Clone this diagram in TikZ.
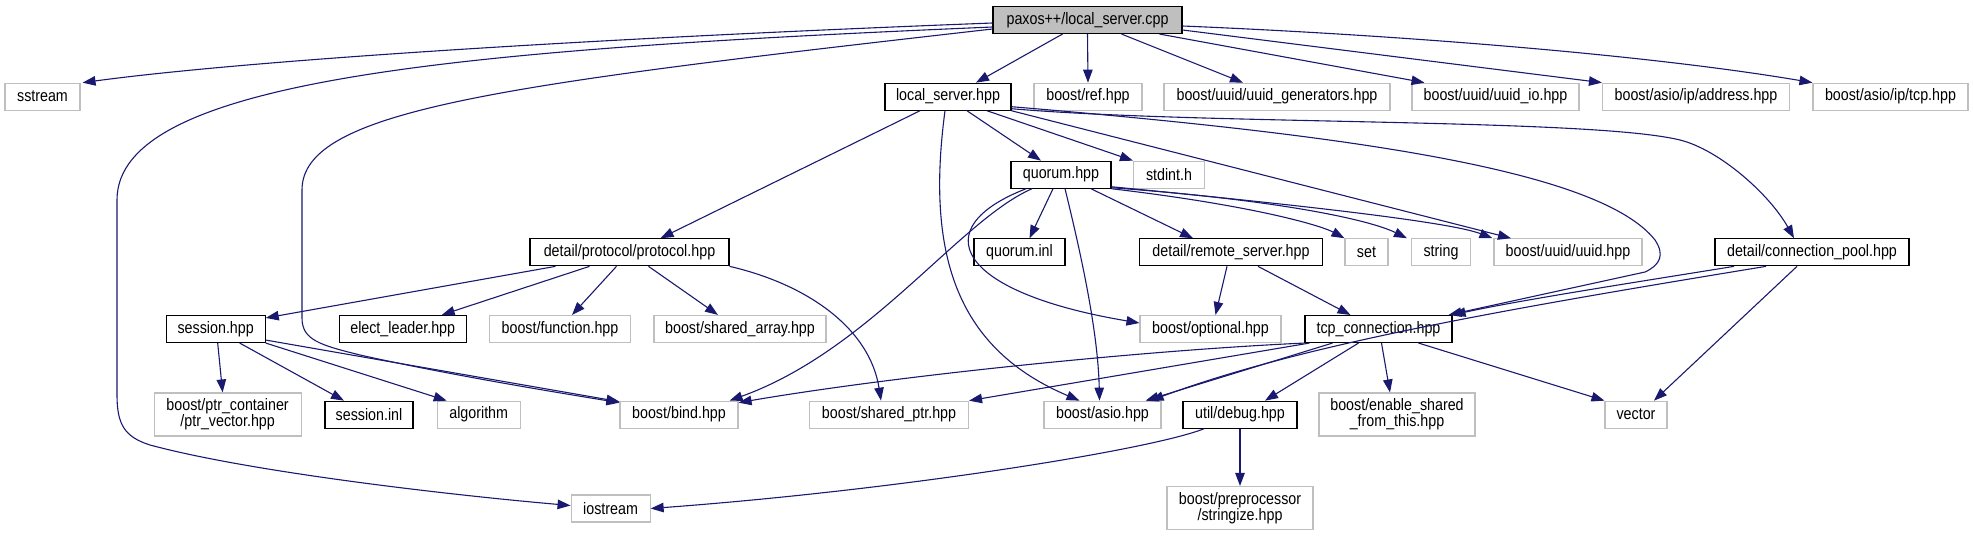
\documentclass[tikz,border=0pt]{standalone}
\usepackage{fontspec}
\newfontfamily\dfont{Liberation Sans}[FakeStretch=0.86]
\usetikzlibrary{arrows.meta}
\definecolor{edgeblue}{HTML}{191970}
\definecolor{boxgrey}{HTML}{BFBFBF}
\tikzset{
  box/.style={draw=black, line width=1.1pt, minimum height=27pt, inner sep=0pt, fill=white, align=center,
              font={\dfont\fontsize{16.6}{16}\selectfont}},
  ext/.style={box, draw=boxgrey},
  tall/.style={minimum height=43pt},
  edge/.style={draw=edgeblue, line width=1.1pt, -{Triangle[length=13pt,width=9.5pt]}, fill=none},
}
\begin{document}
\begin{tikzpicture}[x=1pt,y=-1pt]
\useasboundingbox (0,0) rectangle (1973,536);
% row 1
\node[box, fill=boxgrey, minimum width=189pt] (P) at (1087.5,20) {paxos++/local\_server.cpp};
% row 2
\node[ext, minimum width=75pt] (sstream) at (42.5,96.7) {sstream};
\node[box, minimum width=126pt] (L) at (948,96.7) {local\_server.hpp};
\node[ext, minimum width=108pt] (ref) at (1088,96.7) {boost/ref.hpp};
\node[ext, minimum width=226pt] (gen) at (1277,96.7) {boost/uuid/uuid\_generators.hpp};
\node[ext, minimum width=167pt] (uio) at (1495.5,96.7) {boost/uuid/uuid\_io.hpp};
\node[ext, minimum width=187pt] (addr) at (1696,96.7) {boost/asio/ip/address.hpp};
\node[ext, minimum width=155pt] (tcp) at (1890.5,96.7) {boost/asio/ip/tcp.hpp};
% row 3
\node[box, minimum width=100pt] (Q) at (1061,174.7) {quorum.hpp};
\node[ext, minimum width=71pt] (stdint) at (1169,174.7) {stdint.h};
% row 4
\node[box, minimum width=199pt] (Pr) at (629.5,252.3) {detail/protocol/protocol.hpp};
\node[box, minimum width=91pt] (inl) at (1019.5,252.3) {quorum.inl};
\node[box, minimum width=183pt] (R) at (1231,252.3) {detail/remote\_server.hpp};
\node[ext, minimum width=43pt] (set) at (1366.5,252.3) {set};
\node[ext, minimum width=59pt] (string) at (1441,252.3) {string};
\node[ext, minimum width=148pt] (uuid) at (1568,252.3) {boost/uuid/uuid.hpp};
\node[box, minimum width=194pt] (C) at (1812,252.3) {detail/connection\_pool.hpp};
% row 5
\node[box, minimum width=99pt] (S) at (215.7,329) {session.hpp};
\node[box, minimum width=127pt] (elect) at (402.7,329) {elect\_leader.hpp};
\node[ext, minimum width=141pt] (func) at (560,329) {boost/function.hpp};
\node[ext, minimum width=172pt] (sarr) at (740,329) {boost/shared\_array.hpp};
\node[ext, minimum width=141pt] (opt) at (1210.5,329) {boost/optional.hpp};
\node[box, minimum width=147pt] (T) at (1378.5,329) {tcp\_connection.hpp};
% row 6
\node[ext, tall, minimum width=147pt] (ptrv) at (227.6,414.5) {boost/ptr\_container\\/ptr\_vector.hpp};
\node[box, minimum width=88pt] (sinl) at (369,414.7) {session.inl};
\node[ext, minimum width=83pt] (algo) at (478.7,414.7) {algorithm};
\node[ext, minimum width=118pt] (bind) at (679,414.7) {boost/bind.hpp};
\node[ext, minimum width=159pt] (sptr) at (889,414.7) {boost/shared\_ptr.hpp};
\node[ext, minimum width=117pt] (asio) at (1102.5,414.7) {boost/asio.hpp};
\node[box, minimum width=114pt] (D) at (1240,414.7) {util/debug.hpp};
\node[ext, tall, minimum width=156pt] (enable) at (1397,414.5) {boost/enable\_shared\\\_from\_this.hpp};
\node[ext, minimum width=62pt] (vector) at (1636,414.7) {vector};
% row 7
\node[ext, minimum width=79pt] (iostream) at (610.6,508.5) {iostream};
\node[ext, tall, minimum width=146pt] (stringize) at (1240,508) {boost/preprocessor\\/stringize.hpp};

% edges from P
\draw[edge] ([yshift=-3]P.west) .. controls (600,38) and (250,60) .. ([xshift=2]sstream.north east);
\draw[edge] ([yshift=-7]P.west) .. controls (450,50) and (117,80) .. (117,200) -- (117,395)
   .. controls (117,425) and (125,437) .. (150,445) .. controls (250,472) and (450,495) .. ([yshift=3]iostream.west);
\draw[edge] ([yshift=-9]P.west) .. controls (500,85) and (302,110) .. (302,190) -- (302,318)
   .. controls (302,340) and (320,345) .. (360,355) .. controls (450,375) and (560,393) .. ([yshift=-2]bind.north west);
\draw[edge] ([xshift=-25]P.south) -- ([xshift=28]L.north);
\draw[edge] (P.south) -- (ref.north);
\draw[edge] ([xshift=34]P.south) -- ([xshift=-34]gen.north);
\draw[edge] ([xshift=72]P.south) -- ([xshift=-71]uio.north);
\draw[edge] ([yshift=-10]P.east) -- (addr.north west);
\draw[edge] ([yshift=-6]P.east) .. controls (1400,35) and (1650,55) .. (tcp.north west);
% edges from L
\draw[edge] ([xshift=-28]L.south) -- ([xshift=31]Pr.north);
\draw[edge] ([xshift=-3]L.south) .. controls (925,260) and (960,350) .. ([xshift=-23]asio.north);
\draw[edge] ([xshift=19]L.south) -- ([xshift=-20]Q.north);
\draw[edge] ([xshift=39]L.south) -- (stdint.north west);
\draw[edge] (L.south east) -- ([xshift=-57]uuid.north);
\draw[edge] ([yshift=-10]L.east) .. controls (1350,135) and (1600,170) .. (1655,240)
   .. controls (1665,255) and (1660,265) .. (1645,272) -- ([xshift=-4]T.north east);
\draw[edge] ([yshift=-12]L.east) .. controls (1200,125) and (1590,118) .. (1680,140)
   .. controls (1720,150) and (1770,195) .. ([xshift=-18]C.north);
% edges from Q
\draw[edge] ([xshift=-8]Q.south) -- ([xshift=10]inl.north);
\draw[edge] ([xshift=4]Q.south) .. controls (1080,250) and (1098,330) .. ([xshift=-3]asio.north);
\draw[edge] ([xshift=30]Q.south) -- ([xshift=-38]R.north);
\draw[edge] (Q.south east) .. controls (1250,205) and (1320,225) .. (set.north west);
\draw[edge] ([yshift=1]Q.south east) .. controls (1280,200) and (1370,220) .. ([xshift=-4]string.north west);
\draw[edge] ([yshift=2]Q.south east) .. controls (1300,205) and (1450,222) .. ([xshift=-1]uuid.north west);
\draw[edge] ([xshift=-29]Q.south) .. controls (960,220) and (870,350) .. ([xshift=-9]bind.north east);
\draw[edge] ([xshift=-35]Q.south) .. controls (925,228) and (955,292) .. ([yshift=6]opt.west);
% edges from Pr
\draw[edge] ([xshift=-74]Pr.south) -- ([yshift=-3]S.north east);
\draw[edge] ([xshift=-40]Pr.south) -- ([xshift=39]elect.north);
\draw[edge] ([xshift=-13]Pr.south) -- ([xshift=12]func.north);
\draw[edge] ([xshift=19]Pr.south) -- ([xshift=-22]sarr.north);
\draw[edge] (Pr.south east) .. controls (810,285) and (870,330) .. ([xshift=-8]sptr.north);
% edges from S
\draw[edge] ([xshift=2]S.south) -- ([xshift=-5]ptrv.north);
\draw[edge] ([xshift=24]S.south) -- ([xshift=-25]sinl.north);
\draw[edge] (S.south east) -- ([xshift=-32]algo.north);
\draw[edge] ([yshift=3]S.south east) -- ([yshift=-1]bind.north west);
% edges from R
\draw[edge] ([xshift=-4]R.south) -- ([xshift=5]opt.north);
\draw[edge] ([xshift=27]R.south) -- ([xshift=-28]T.north);
% edges from C
\draw[edge] ([xshift=-78]C.south) .. controls (1650,280) and (1520,300) .. (T.north east);
\draw[edge] ([xshift=-46]C.south) .. controls (1500,310) and (1300,345) .. ([xshift=-11]asio.north east);
\draw[edge] ([xshift=-15]C.south) -- ([xshift=18]vector.north);
% edges from T
\draw[edge] (T.south west) .. controls (1150,350) and (900,375) .. ([yshift=-2]bind.north east);
\draw[edge] ([xshift=5]T.south west) -- (sptr.north east);
\draw[edge] ([xshift=-46]T.south) -- ([xshift=-16]asio.north east);
\draw[edge] ([xshift=-20]T.south) -- ([xshift=25]D.north);
\draw[edge] ([xshift=3]T.south) -- ([xshift=-7]enable.north);
\draw[edge] ([xshift=40]T.south) -- (vector.north west);
% edges from D
\draw[edge] (D.south) -- (stringize.north);
\draw[edge] ([xshift=-36]D.south) .. controls (1150,450) and (900,490) .. (iostream.east);
\end{tikzpicture}
\end{document}
